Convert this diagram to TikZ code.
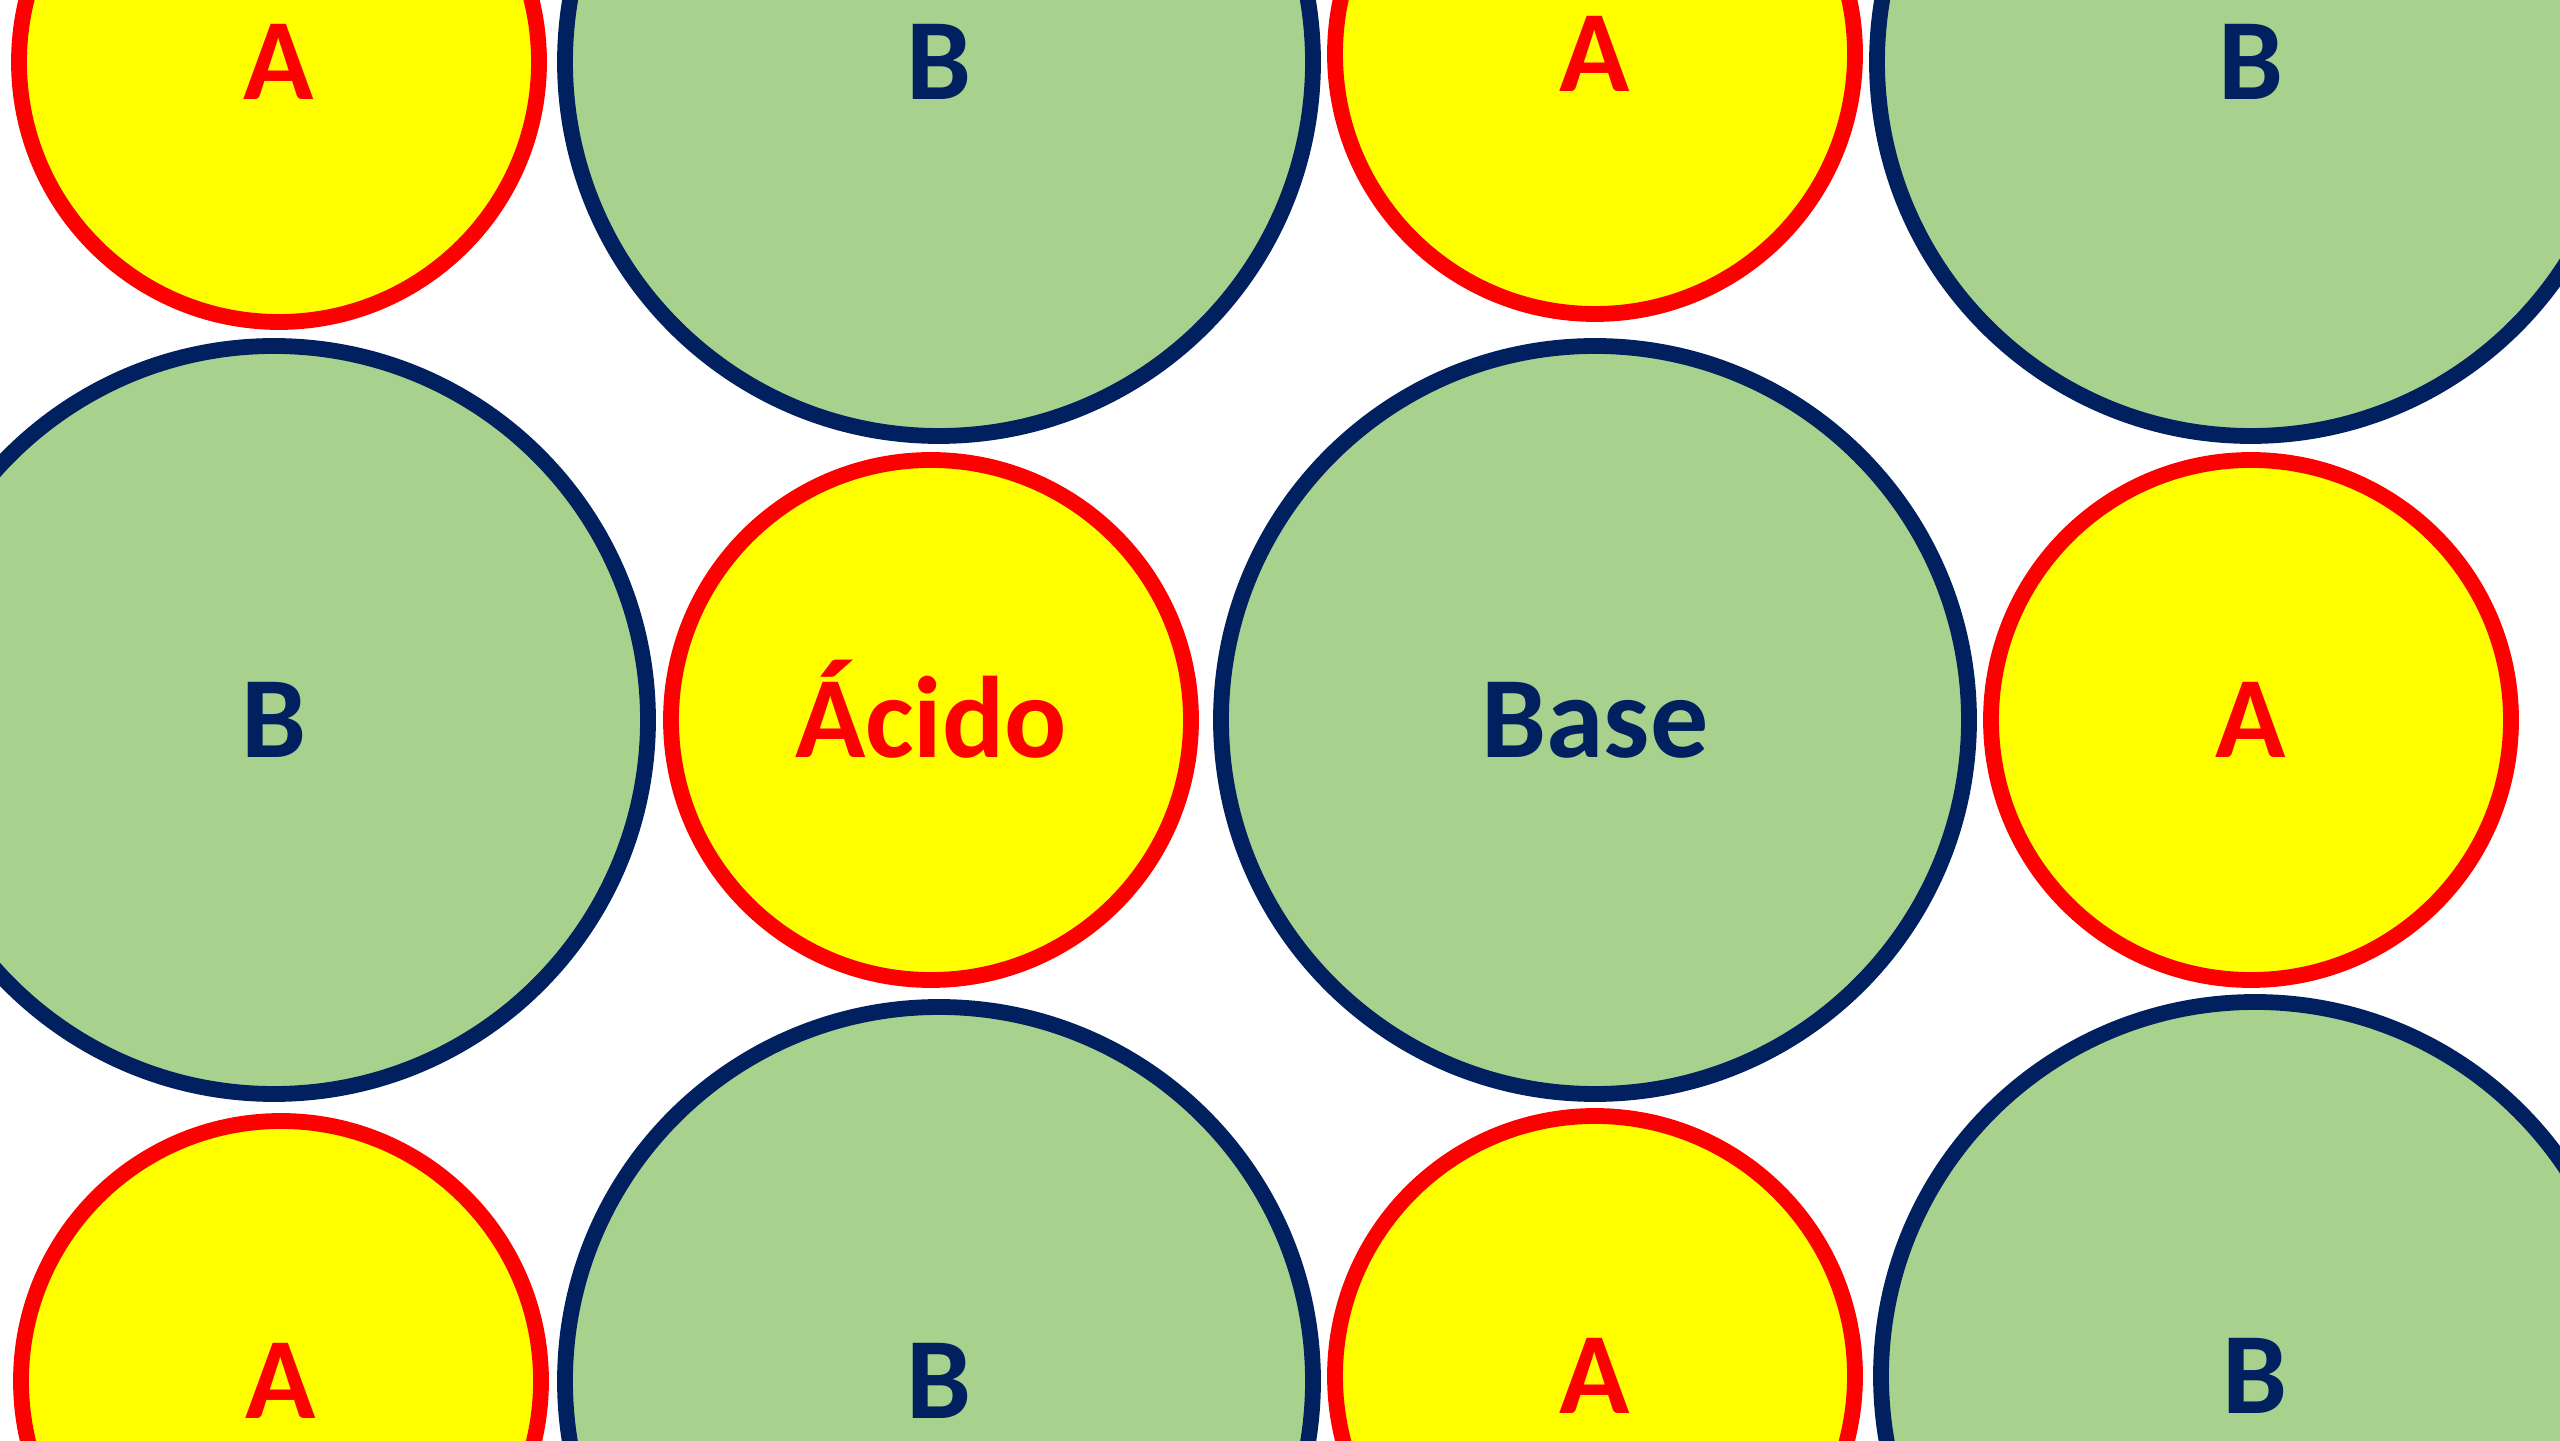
\documentclass[tikz,border=0pt]{standalone}
\usepackage{fontspec}
\setmainfont{Carlito}
\definecolor{AcidYellow}{RGB}{255,255,0}
\definecolor{AcidRed}{RGB}{255,0,0}
\definecolor{BaseGreen}{RGB}{169,209,142}
\definecolor{BaseNavy}{RGB}{0,32,96}

\begin{document}
\begin{tikzpicture}[
  every node/.style={font=\fontsize{33}{40}\selectfont\bfseries,text height=21.3pt,text depth=0pt,inner sep=0pt},
  acid/.style={circle,draw=AcidRed,fill=AcidYellow,text=AcidRed,line width=4.5pt,minimum size=5.2cm},
  base/.style={circle,draw=BaseNavy,fill=BaseGreen,text=BaseNavy,line width=4.5pt,minimum size=7.48cm}]
\useasboundingbox (0,0) rectangle (25.6,14.4);
\clip (0,0) rectangle (25.6,14.4);
% top row
\node[acid] (a1) at (2.79,13.78) {A};
\node[base] (b1) at (9.39,13.78) {B};
\node[acid] (a2) at (15.95,13.86) {A};
\node[base] (b2) at (22.51,13.78) {B};
% middle row
\node[base] (b3) at (2.74,7.2) {B};
\node[acid] (acido) at (9.31,7.2) {Ácido};
\node[base] (base) at (15.95,7.2) {Base};
\node[acid] (a3) at (22.51,7.2) {A};
% bottom row
\node[acid] (a4) at (2.81,0.59) {A};
\node[base] (b4) at (9.39,0.59) {B};
\node[acid] (a5) at (15.95,0.64) {A};
\node[base] (b5) at (22.55,0.64) {B};
\end{tikzpicture}
\end{document}
